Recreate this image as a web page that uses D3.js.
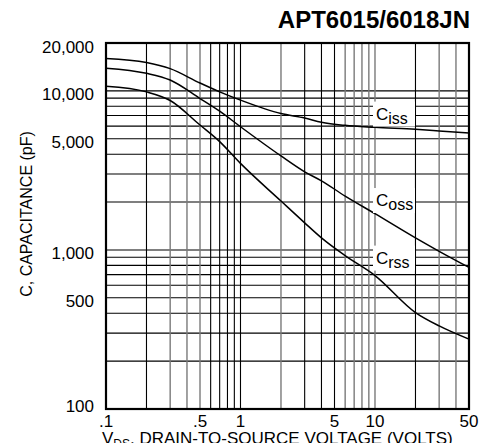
<!DOCTYPE html>
<html>
<head>
<meta charset="utf-8">
<script src="https://cdn.jsdelivr.net/npm/d3@7"></script>
<style>
  body { margin: 0; background: #fff; }
  svg { display: block; font-family: 'Liberation Sans', Arial, Helvetica, sans-serif; }
</style>
</head>
<body>
<div id="chart"></div>
<script>
// drain-to-source voltage (V) where the curves were read
const voltage = [0.1, 0.2, 0.3, 0.5, 0.7, 1, 2, 3, 4, 6, 10, 20, 30, 50];
// capacitances (pF)
const ciss = [16000, 15100, 13800, 11200, 9860, 8750, 7200, 6750, 6350, 6070, 5900, 5730, 5600, 5430];
const coss = [13900, 12900, 11700, 8950, 7450, 5950, 3900, 3100, 2720, 2180, 1690, 1190, 980, 776];
const crss = [10700, 9860, 8700, 6100, 4800, 3500, 2030, 1480, 1190, 920, 690, 404, 333, 275];

const xTickValues = [0.1, 0.5, 1, 5, 10, 50];
const xTickLabels = ['.1', '.5', '1', '5', '10', '50'];
const yTickValues = [100, 500, 1000, 5000, 10000, 20000];
const yTickLabels = ['100', '500', '1,000', '5,000', '10,000', '20,000'];

// vertical grid lines drawn in gray in the original scan
const grayVoltages = [0.3, 0.4, 0.5, 2, 6, 7, 8, 9, 10, 30, 40];

// curve labels: name, subscript, and where the label box sits (V, pF)
const labels = [
  { main: 'C', sub: 'iss', v: 10, c: 7200 },
  { main: 'C', sub: 'oss', v: 10, c: 2060 },
  { main: 'C', sub: 'rss', v: 10, c: 895 },
];

function createChart() {
  const width = 482;
  const height = 443;
  const margin = { top: 43, right: 13, bottom: 34, left: 106 };

  const svg = d3.select('#chart')
    .append('svg')
    .attr('width', width)
    .attr('height', height);

  const x = d3.scaleLog().domain([0.1, 50]).range([margin.left, width - margin.right]);
  const y = d3.scaleLog().domain([100, 20000]).range([height - margin.bottom, margin.top]);

  // minor grid values, 1..9 per decade
  const xGrid = [];
  for (const dec of [0.1, 1, 10]) {
    for (let k = 2; k <= 9; k++) {
      const v = +(k * dec).toPrecision(2);
      if (v < 50) xGrid.push(v);
    }
  }
  xGrid.push(1, 10);
  const yGrid = [];
  for (const dec of [100, 1000, 10000]) {
    for (let k = 1; k <= 9; k++) {
      const v = k * dec;
      if (v > 100 && v < 20000) yGrid.push(v);
    }
  }

  const grid = svg.append('g').attr('class', 'grid');

  grid.selectAll('line.h')
    .data(yGrid)
    .join('line')
    .attr('class', 'h')
    .attr('x1', x.range()[0])
    .attr('x2', x.range()[1])
    .attr('y1', (d) => y(d))
    .attr('y2', (d) => y(d))
    .attr('stroke', '#000')
    .attr('stroke-width', 1.1);

  grid.selectAll('line.v')
    .data(xGrid)
    .join('line')
    .attr('class', 'v')
    .attr('x1', (d) => x(d))
    .attr('x2', (d) => x(d))
    .attr('y1', y.range()[0])
    .attr('y2', y.range()[1])
    .attr('stroke', (d) => (grayVoltages.includes(d) ? '#7a7a7a' : '#000'))
    .attr('stroke-width', (d) => (grayVoltages.includes(d) ? 1.4 : 1.1));

  // curves
  const series = [ciss, coss, crss];
  const line = d3.line()
    .x((d) => x(d[0]))
    .y((d) => y(d[1]))
    .curve(d3.curveMonotoneX);

  svg.append('g')
    .selectAll('path')
    .data(series)
    .join('path')
    .attr('d', (s) => line(voltage.map((v, i) => [v, s[i]])))
    .attr('fill', 'none')
    .attr('stroke', '#000')
    .attr('stroke-width', 1.5);

  // curve labels on white boxes
  const lab = svg.append('g')
    .selectAll('g')
    .data(labels)
    .join('g')
    .attr('transform', (d) => `translate(${x(d.v)},${y(d.c)})`);

  lab.append('rect')
    .attr('x', -2)
    .attr('y', -12)
    .attr('width', 42)
    .attr('height', 25)
    .attr('fill', '#fff');

  const t = lab.append('text')
    .attr('x', 1)
    .attr('y', 6)
    .attr('fill', '#000');
  t.append('tspan').attr('font-size', 17).text((d) => d.main);
  t.append('tspan').attr('font-size', 16).attr('dy', 4).text((d) => d.sub);

  // frame
  svg.append('rect')
    .attr('x', x.range()[0])
    .attr('y', y.range()[1])
    .attr('width', x.range()[1] - x.range()[0])
    .attr('height', y.range()[0] - y.range()[1])
    .attr('fill', 'none')
    .attr('stroke', '#000')
    .attr('stroke-width', 2.2);

  // tick labels
  svg.append('g')
    .selectAll('text')
    .data(xTickValues)
    .join('text')
    .attr('x', (d) => x(d))
    .attr('y', 427)
    .attr('text-anchor', 'middle')
    .attr('font-size', 17)
    .text((d, i) => xTickLabels[i]);

  svg.append('g')
    .selectAll('text')
    .data(yTickValues)
    .join('text')
    .attr('x', margin.left - 12)
    .attr('y', (d) => Math.min(y(d) + 9.5, 412))
    .attr('text-anchor', 'end')
    .attr('font-size', 17)
    .text((d, i) => yTickLabels[i]);

  // axis titles
  const xt = svg.append('text')
    .attr('x', 102)
    .attr('y', 444)
    .attr('font-size', 17);
  xt.append('tspan').text('V');
  xt.append('tspan').attr('font-size', 12).attr('dy', 4).text('DS');
  xt.append('tspan').attr('dy', -4).text(', DRAIN-TO-SOURCE VOLTAGE (VOLTS)');

  svg.append('text')
    .attr('transform', 'translate(32,214) rotate(-90)')
    .attr('text-anchor', 'middle')
    .attr('font-size', 16)
    .text('C, CAPACITANCE (pF)');

  // part number
  svg.append('text')
    .attr('x', 470)
    .attr('y', 28)
    .attr('text-anchor', 'end')
    .attr('font-size', 24)
    .attr('font-weight', 'bold')
    .text('APT6015/6018JN');
}

createChart();
</script>
</body>
</html>
